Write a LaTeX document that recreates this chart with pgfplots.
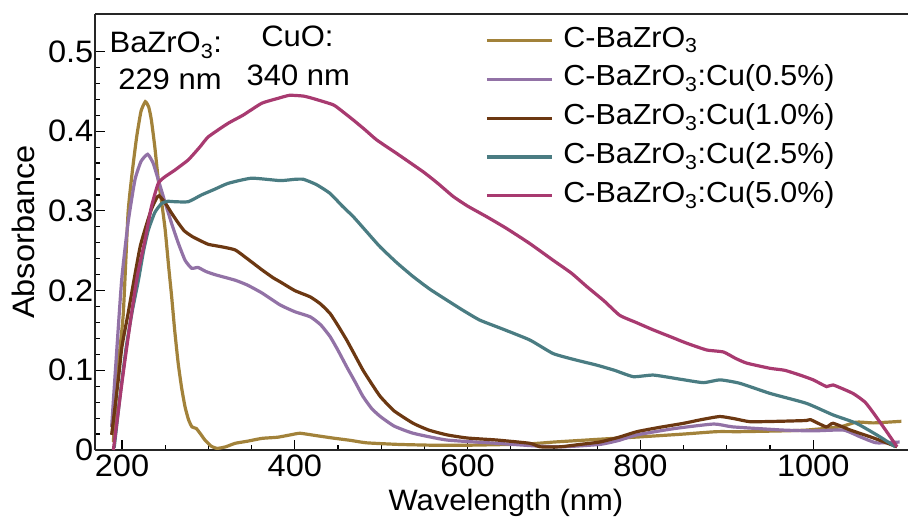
\documentclass[border=0pt]{standalone}
\usepackage{pgfplots}
\pgfplotsset{compat=1.18}
\usepackage{fontspec}
% the reference text is set slightly wide, so the sans face is stretched a little
\setmainfont[FakeStretch=1.05]{Liberation Sans}

\definecolor{cgold}{RGB}{162,130,58}
\definecolor{cpurple}{RGB}{146,114,166}
\definecolor{cbrown}{RGB}{108,56,18}
\definecolor{cteal}{RGB}{74,124,130}
\definecolor{cmag}{RGB}{168,58,112}

\begin{document}
\begin{tikzpicture}
\begin{axis}[
  name=ax,
  scale only axis,
  width=813bp, height=436bp,
  xmin=168.75, xmax=1109.7,
  ymin=0, ymax=0.547,
  axis x line=box, axis y line=left,
  x axis line style={-}, y axis line style={-},
  axis line style={line width=1.6bp, black!85},
  xtick={200,400,600,800,1000},
  xticklabels={200,400,600,800,1000},
  ytick={0,0.1,0.2,0.3,0.4,0.5},
  yticklabels={0,0.1,0.2,0.3,0.4,0.5},
  minor x tick num=3,
  minor y tick num=4,
  xtick pos=bottom, ytick pos=left,
  tick align=inside,
  major tick length=10bp, minor tick length=5bp,
  tick style={line width=1.2bp, black},
  /pgf/number format/assume math mode=true,
  tick label style={font=\fontsize{31bp}{36bp}\selectfont},
  yticklabel style={inner sep=1.5bp},
  xticklabel style={inner sep=0.5bp, yshift=-4bp},
  xlabel={Wavelength (nm)},
  ylabel={Absorbance},
  label style={font=\fontsize{31bp}{36bp}\selectfont},
  xlabel style={font=\fontsize{29.5bp}{34bp}\selectfont,
    at={(axis description cs:0.5055,0)}, anchor=base, yshift=-60bp},
  ylabel style={at={(axis description cs:0,0.5)}, anchor=base, yshift=60bp},
  every axis plot/.append style={line width=3.2bp, smooth, tension=0.3},
  legend cell align=left,
  legend style={draw=none, fill=none, at={(0.4797,1)}, anchor=north west,
    yshift=-13bp, inner sep=0pt, row sep=11.8bp,
    nodes={inner sep=0pt, text height=20bp, text depth=7bp},
    /tikz/every odd column/.append style={column sep=10bp},
    font=\fontsize{29bp}{33bp}\selectfont},
  legend image code/.code={\draw[#1, line width=3.2bp, sharp plot] (0bp,0bp) -- (65bp,0bp);},
]
% C-BaZrO3
\addplot[cgold] coordinates {
(190,0.01) (192,0.046) (196,0.11) (201.5,0.171) (207,0.297) (212,0.35) (217,0.393)
(222,0.425) (227,0.437) (231,0.43) (234,0.414) (238,0.38) (242,0.339) (246,0.31)
(250,0.276) (254,0.23) (257.5,0.192) (261,0.15) (265,0.109) (269,0.078) (273,0.054)
(277,0.038) (281,0.029) (286,0.027) (291,0.02) (296,0.0125) (303,0.005) (310,0.002)
(320,0.004) (331,0.0084) (345,0.011) (362,0.0146) (380,0.016) (395,0.019) (406,0.021)
(425,0.018) (444,0.015) (465,0.012) (483,0.009) (520,0.007) (560,0.006) (600,0.006)
(650,0.007) (676,0.008) (700,0.01) (730,0.012) (760,0.014) (803,0.0167) (850,0.02)
(888,0.023) (915,0.023) (965,0.024) (992,0.025) (1031,0.029) (1050,0.035) (1070,0.034)
(1102,0.036)
};
\addlegendentry{C-BaZrO\textsubscript{3}}
% Cu 0.5%
\addplot[cpurple] coordinates {
(188,0.029) (193,0.11) (199.6,0.213) (207,0.285) (215,0.339) (222,0.362) (229.7,0.371)
(236,0.36) (242,0.339) (250,0.31) (257.5,0.284) (265,0.26) (273,0.238) (280.6,0.228)
(288,0.229) (297,0.224) (307.6,0.22) (331,0.213) (345,0.207) (362,0.197) (383,0.182)
(400,0.1735) (418,0.167) (430,0.157) (441,0.142) (450,0.125) (460,0.1045) (470,0.085)
(479,0.067) (489,0.052) (499,0.042) (515,0.03) (537,0.021) (576,0.0125) (634,0.0084)
(680,0.005) (710,0.004) (753,0.007) (775,0.012) (796,0.019) (840,0.027) (885,0.0326)
(907,0.029) (965,0.025) (1000,0.024) (1035,0.025) (1054,0.0167) (1073,0.009) (1100,0.010)
};
\addlegendentry{C-BaZrO\textsubscript{3}:Cu(0.5\%)}
% Cu 1.0%
\addplot[cbrown] coordinates {
(188,0.019) (195.7,0.088) (200,0.13) (207,0.171) (215,0.22) (221,0.255) (227,0.278)
(234,0.302) (240,0.316) (243,0.319) (250,0.31) (257.5,0.297) (265,0.285) (272,0.275)
(281,0.268) (290,0.263) (300,0.258) (315,0.255) (331,0.251) (345,0.24) (362,0.226)
(375,0.216) (383,0.211) (400,0.2) (418,0.192) (430,0.183) (441,0.171) (450,0.156)
(460,0.138) (470,0.118) (479,0.1) (489,0.083) (499,0.067) (515,0.049) (537,0.0335)
(555,0.025) (576,0.019) (600,0.015) (634,0.0125) (672,0.0084) (684,0.004) (707,0.004)
(730,0.007) (753,0.010) (775,0.016) (796,0.023) (820,0.028) (850,0.0335) (870,0.038)
(892,0.042) (910,0.039) (927,0.0355) (960,0.036) (992,0.037) (997,0.038) (1015,0.029)
(1023,0.0335) (1043,0.025) (1070,0.015) (1097,0.004)
};
\addlegendentry{C-BaZrO\textsubscript{3}:Cu(1.0\%)}
% Cu 2.5%
\addplot[cteal] coordinates {
(191,0.003) (198,0.07) (205,0.13) (212,0.175) (219,0.213) (225,0.25) (230.5,0.276)
(238,0.298) (246,0.3095) (253,0.312) (261,0.3115) (276.7,0.3115) (292,0.32) (307,0.327)
(323,0.3346) (350,0.341) (383,0.338) (400,0.3396) (410,0.3396) (425,0.333) (440.7,0.322)
(455,0.306) (467.7,0.2927) (483,0.274) (498.6,0.255) (518,0.235) (537,0.2175) (556,0.202)
(576,0.188) (595,0.175) (614,0.163) (640,0.152) (672,0.138) (699,0.121) (725,0.113)
(749,0.1066) (770,0.1) (791.8,0.092) (815,0.094) (845,0.089) (872.8,0.0845) (892,0.088)
(915,0.0837) (950,0.071) (992,0.0586) (1023,0.044) (1050,0.0335) (1077,0.0167) (1095,0.004)
};
\addlegendentry{C-BaZrO\textsubscript{3}:Cu(2.5\%)}
% Cu 5.0%
\addplot[cmag] coordinates {
(190,0.0) (200,0.085) (205,0.125) (211,0.171) (218,0.22) (226.6,0.263) (234,0.305)
(242,0.3346) (250,0.343) (261,0.351) (276.7,0.364) (290,0.38) (300,0.393) (323,0.41)
(340,0.42) (361.7,0.435) (380,0.441) (394,0.445) (410,0.444) (421,0.441) (444.6,0.433)
(456,0.424) (467.7,0.414) (481,0.402) (494.8,0.389) (518,0.372) (548.6,0.349) (565,0.335)
(583.4,0.318) (600,0.306) (622,0.2927) (645,0.278) (672,0.259) (699,0.238) (720,0.222)
(738,0.205) (758,0.187) (776,0.169) (795,0.16) (815,0.1506) (835,0.142) (853.5,0.134)
(876.7,0.1255) (896,0.123) (910,0.115) (923,0.109) (950,0.1025) (967,0.1) (984.7,0.094)
(1000,0.088) (1015.5,0.0795) (1023,0.0816) (1046,0.071) (1060,0.06) (1070,0.046)
(1085,0.023) (1097,0.004)
};
\addlegendentry{C-BaZrO\textsubscript{3}:Cu(5.0\%)}

\node[anchor=base, font=\fontsize{29.5bp}{34bp}\selectfont] at (axis cs:250.7,0.499) {BaZrO\textsubscript{3}:};
\node[anchor=base, font=\fontsize{29.5bp}{34bp}\selectfont] at (axis cs:255.5,0.452) {229 nm};
\node[anchor=base, font=\fontsize{29.5bp}{34bp}\selectfont] at (axis cs:403,0.506) {CuO:};
\node[anchor=base, font=\fontsize{29.5bp}{34bp}\selectfont] at (axis cs:404,0.457) {340 nm};
\end{axis}
\pgfresetboundingbox
\path (ax.south west) ++(-95bp,-67bp) coordinate (bl);
\path (ax.north east) ++(0bp,14bp) coordinate (tr);
\useasboundingbox (bl) rectangle (tr);
\end{tikzpicture}
\end{document}
